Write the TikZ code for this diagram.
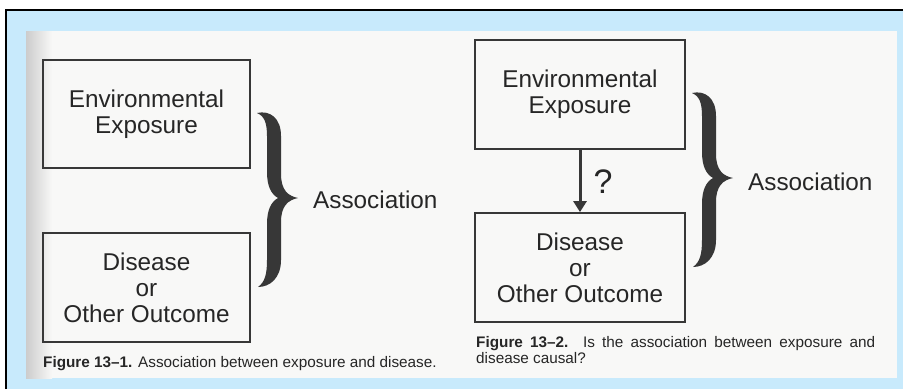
\documentclass[tikz,border=0pt]{standalone}
\usepackage{fontspec}
\setmainfont{Liberation Sans}
\usetikzlibrary{arrows.meta}
\definecolor{bluebg}{RGB}{200,234,252}
\definecolor{pagebg}{RGB}{248,248,247}
\definecolor{ink}{RGB}{38,38,38}
\definecolor{boxline}{RGB}{55,55,55}
\tikzset{
  boxnode/.style={draw=boxline, line width=1.8pt, align=center, text=ink,
    font=\fontsize{24.3}{26}\selectfont, inner sep=0pt},
  assoc/.style={text=ink, font=\fontsize{24.3}{26}\selectfont, anchor=west, inner sep=0pt},
  capt/.style={text=ink, font=\fontsize{15.3}{16.5}\selectfont, inner sep=0pt},
  arrowline/.style={draw=boxline, line width=3pt, -{Triangle[width=13pt,length=11pt]}},
  pics/bigbrace/.style={code={
    \fill[boxline] (-41,-85) .. controls (-28,-88) and (-17,-80) .. (-17,-62)
      -- (-17,-24) .. controls (-17,-8) and (-10,-2) .. (0,0)
      .. controls (-10,2) and (-17,8) .. (-17,24)
      -- (-17,62) .. controls (-17,80) and (-28,89) .. (-40,89)
      .. controls (-33,84) and (-31,76) .. (-31,62)
      -- (-31,26) .. controls (-31,12) and (-27,4) .. (-20,0)
      .. controls (-27,-4) and (-31,-12) .. (-31,-26)
      -- (-31,-62) .. controls (-31,-76) and (-34,-82) .. (-41,-85) -- cycle;
  }}
}
\begin{document}
\begin{tikzpicture}[x=1pt,y=-1pt]
\useasboundingbox (0,0) rectangle (903,389);
\fill[white] (0,0) rectangle (903,389);
\fill[bluebg] (6,10) rectangle (903,389);
\draw[black, line width=2pt] (6,389) -- (6,10) -- (903,10);
\fill[pagebg] (26,31) rectangle (897,378);
\shade[left color=black!20, right color=pagebg] (26,31) rectangle (52,378);

% left figure
\node[boxnode, minimum width=207pt, minimum height=108pt] (env1) at (146.5,114) {Environmental\\Exposure};
\node[boxnode, minimum width=207pt, minimum height=109pt] (dis1) at (146.5,287.5) {Disease\\or\\Other Outcome};
\pic at (298,198) {bigbrace};
\node[assoc] (assoc1) at (313,200) {Association};
\node[capt, anchor=base west] (cap1) at (43,367) {\textbf{Figure 13–1.} Association between exposure and disease.};

% right figure
\node[boxnode, minimum width=210pt, minimum height=109pt] (env2) at (580,94.5) {Environmental\\Exposure};
\node[boxnode, minimum width=210pt, minimum height=109pt] (dis2) at (580,267.5) {Disease\\or\\Other Outcome};
\draw[arrowline] (env2.south) -- (dis2.north);
\node[text=ink, font=\fontsize{34}{34}\selectfont, inner sep=0pt] (q) at (603,182) {?};
\pic at (733,178) {bigbrace};
\node[assoc] (assoc2) at (748,182) {Association};
\node[capt, anchor=north west, text width=399pt, align=justify] (cap2) at (476,336) {\textbf{Figure 13–2.} Is the association between exposure and\linebreak disease causal?};
\end{tikzpicture}
\end{document}
